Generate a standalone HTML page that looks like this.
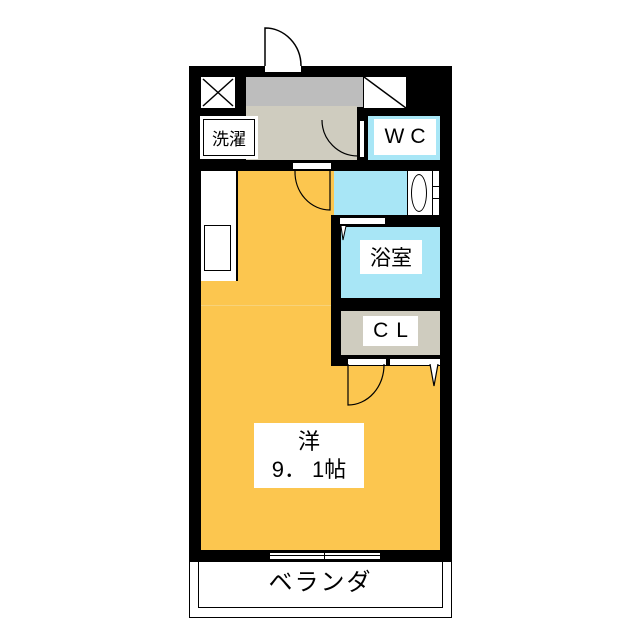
<!DOCTYPE html>
<html><head><meta charset="utf-8"><style>
body{margin:0;width:640px;height:640px;background:#fff;position:relative;overflow:hidden;font-family:"Liberation Sans","Noto Sans CJK JP",sans-serif}
div{position:absolute;box-sizing:border-box}
.t{background:#fff;display:flex;align-items:center;justify-content:center;color:#000}
</style></head><body>
<div style="left:189px;top:66px;width:263px;height:496px;background:#000"></div>
<div style="left:201px;top:171px;width:239px;height:379px;background:#fcc64f"></div>
<div style="left:201px;top:305px;width:130px;height:1px;background:#f7d27a"></div>
<div style="left:246px;top:77px;width:117px;height:30px;background:#bdbdbd"></div>
<div style="left:246px;top:106px;width:111px;height:54px;background:#cfccbf"></div>
<svg style="position:absolute;left:201px;top:77px" width="34" height="31"><rect width="34" height="31" fill="#fff"/><path d="M2 2L32 29M32 2L2 29" stroke="#000" stroke-width="1.5"/></svg>
<svg style="position:absolute;left:364px;top:77px" width="42" height="31"><rect width="42" height="31" fill="#fff"/><path d="M0 0L42 31" stroke="#000" stroke-width="1.5"/></svg>
<div style="left:200px;top:116px;width:58px;height:43px;background:#fff"></div>
<div class="t" style="left:203px;top:119px;width:52px;height:37px;border:1px solid #000;font-size:17px">洗濯</div>
<div style="left:368px;top:116px;width:72px;height:44px;background:#a8e6f6"></div>
<div class="t" style="left:374px;top:119px;width:62px;height:36px;font-size:21px;letter-spacing:6px;padding-left:6px">WC</div>
<div style="left:359px;top:120px;width:6px;height:38px;background:#fff;border:1px solid #000"></div>
<svg style="position:absolute;left:320px;top:118px" width="40" height="42"><path d="M2 2A36 36 0 0 0 38 38" fill="none" stroke="#000" stroke-width="1.2"/></svg>
<div style="left:265px;top:66px;width:36px;height:6px;background:#fff"></div>
<svg style="position:absolute;left:262px;top:25px" width="42" height="42"><path d="M3 41V3A36 38 0 0 1 39 41" fill="none" stroke="#000" stroke-width="1.5"/></svg>
<div style="left:293px;top:163px;width:38px;height:6px;background:#fff"></div>
<svg style="position:absolute;left:290px;top:170px" width="42" height="42"><path d="M5 1A35 38 0 0 0 40 40V1" fill="none" stroke="#000" stroke-width="1.2"/></svg>
<div style="left:201px;top:171px;width:37px;height:110px;background:#fff;border-right:2px solid #000"></div>
<div style="left:204px;top:225px;width:27px;height:46px;border:1px solid #000;background:#fff"></div>
<div style="left:334px;top:171px;width:74px;height:45px;background:#a8e6f6"></div>
<div style="left:407px;top:171px;width:33px;height:45px;background:#fff;border-left:1px solid #000"></div>
<div style="left:411px;top:174px;width:16px;height:38px;border:1.5px solid #000;border-radius:50%"></div>
<div style="left:432px;top:171px;width:8px;height:45px;border-left:1px solid #000;border-right:1px solid #000"></div>
<div style="left:432px;top:186px;width:8px;height:1px;background:#000"></div>
<div style="left:432px;top:198px;width:8px;height:1px;background:#000"></div>
<div style="left:331px;top:215px;width:121px;height:12px;background:#000"></div>
<div style="left:331px;top:215px;width:10px;height:151px;background:#000"></div>
<div style="left:440px;top:215px;width:12px;height:160px;background:#000"></div>
<div style="left:331px;top:298px;width:121px;height:13px;background:#000"></div>
<div style="left:331px;top:355px;width:121px;height:11px;background:#000"></div>
<div style="left:341px;top:227px;width:99px;height:71px;background:#a8e6f6"></div>
<div style="left:340px;top:218px;width:45px;height:6px;background:#fff"></div>
<div class="t" style="left:360px;top:240px;width:62px;height:34px;font-size:21px">浴室</div>
<div style="left:341px;top:311px;width:99px;height:44px;background:#cfccbf"></div>
<div class="t" style="left:363px;top:316px;width:55px;height:30px;font-size:21px;letter-spacing:8px;padding-left:8px">CL</div>
<div style="left:348px;top:359px;width:38px;height:6px;background:#fff"></div>
<div style="left:390px;top:359px;width:50px;height:6px;background:#fff"></div>
<svg style="position:absolute;left:345px;top:364px" width="44" height="44"><path d="M3 0V41A36 40 0 0 0 39 0" fill="none" stroke="#000" stroke-width="1.2"/></svg>
<svg style="position:absolute;left:428px;top:364px" width="12" height="24"><path d="M2 0L6 22L10 0" fill="#fff" stroke="#000" stroke-width="1.2"/></svg>
<svg style="position:absolute;left:340px;top:226px" width="8" height="16"><path d="M1 0L3 14L6 0" fill="#fff" stroke="#000"/></svg>
<div class="t" style="left:254px;top:423px;width:110px;height:65px;flex-direction:column;font-size:22px;line-height:28px"><span>洋</span><span>9． 1帖</span></div>
<div style="left:270px;top:552px;width:110px;height:8px;background:#fff;border-top:1px solid #000;border-bottom:1px solid #000"></div>
<div style="left:270px;top:555px;width:110px;height:1px;background:#000"></div>
<div style="left:324px;top:550px;width:1px;height:10px;background:#000"></div>
<div style="left:189px;top:562px;width:263px;height:56px;border:1px solid #000;border-top:none"></div>
<div style="left:198px;top:562px;width:245px;height:46px;border:1px solid #000;border-top:none"></div>
<div style="left:198px;top:565px;width:245px;height:36px;font-size:24px;text-align:center;letter-spacing:2px;line-height:36px">ベランダ</div>
</body></html>
